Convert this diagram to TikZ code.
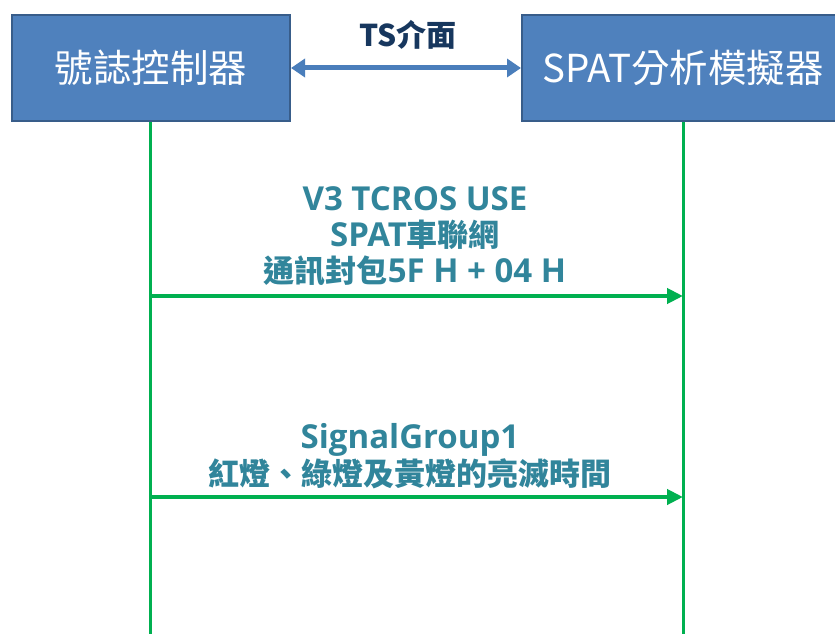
\documentclass[tikz,border=0pt]{standalone}
\usepackage{fontspec}
\newfontfamily\cjk{Noto Sans CJK TC}
\newfontfamily\lat{Open Sans}
\newcommand\latin[1]{{\lat\fontsize{33}{36}\selectfont #1}}
\usetikzlibrary{arrows.meta}
\definecolor{boxfill}{RGB}{79,129,189}
\definecolor{boxedge}{RGB}{56,93,138}
\definecolor{arrowblue}{RGB}{74,126,187}
\definecolor{lifegreen}{RGB}{0,176,80}
\definecolor{labelteal}{RGB}{49,133,155}
\definecolor{navy}{RGB}{23,55,94}
\tikzset{
  actor/.style={draw=boxedge, line width=2pt, fill=boxfill, minimum height=106pt, inner sep=0pt,
    text=white, font=\cjk\fontsize{38.5}{44}\selectfont},
  lifeline/.style={draw=lifegreen, line width=3pt},
  msg/.style={draw=lifegreen, line width=4pt, -{Triangle[length=16pt,width=15pt]}},
  msglabel/.style={text=labelteal, align=center, font=\cjk\bfseries\fontsize{31}{36}\selectfont, inner sep=0pt},
  iface/.style={draw=arrowblue, line width=5pt, {Triangle[length=14pt,width=18pt]}-{Triangle[length=14pt,width=18pt]}}
}
\begin{document}
\begin{tikzpicture}[x=1pt,y=-1pt]
\clip (0,0) rectangle (835,634);
\fill[white] (0,0) rectangle (835,634);
\node[actor, minimum width=278pt] (L) at (151,68) {號誌控制器};
\node[actor, minimum width=322pt] (R) at (683,68) {SPAT分析模擬器};
\coordinate (Lend) at (150,640);
\coordinate (Rend) at (683,640);
\draw[lifeline] (L.south -| Lend) -- (Lend);
\draw[lifeline] (R.south -| Rend) -- (Rend);
% interface arrow
\draw[iface] (L.east) -- (R.west);
\node[text=navy, font=\cjk\bfseries\fontsize{30}{34}\selectfont, inner sep=0pt] (ts) at (408,35) {TS介面};
% messages
\coordinate (m1s) at (150,296);
\coordinate (m1e) at (683,296);
\coordinate (m2s) at (150,497);
\coordinate (m2e) at (683,497);
\draw[msg] (m1s) -- (m1e);
\draw[msg] (m2s) -- (m2e);
\node[msglabel] (t1) at (415,236) {\latin{V3 TCROS USE}\\\latin{SPAT}車聯網\\通訊封包\latin{5F H + 04 H}};
\node[msglabel] (t2) at (410,456) {\latin{SignalGroup1}\\[1pt]紅燈、綠燈及黃燈的亮滅時間};
\end{tikzpicture}
\end{document}
